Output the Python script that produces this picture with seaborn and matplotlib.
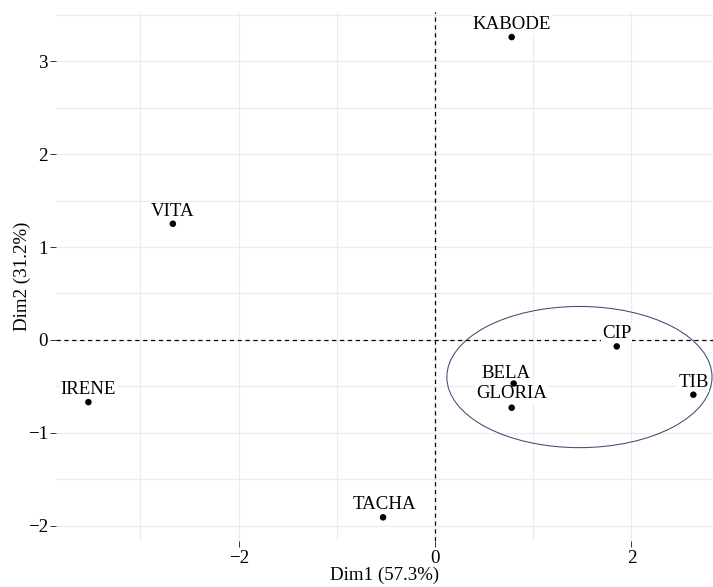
import matplotlib
matplotlib.use("Agg")
import matplotlib.pyplot as plt
from matplotlib.patches import Ellipse
import seaborn as sns
import pandas as pd

# Individuals on the first two principal dimensions
names = ["KABODE", "VITA", "IRENE", "TACHA", "CIP", "BELA", "GLORIA", "TIB"]
dim1 = [0.78, -2.67, -3.53, -0.53, 1.85, 0.80, 0.78, 2.63]
dim2 = [3.26, 1.25, -0.67, -1.91, -0.07, -0.47, -0.73, -0.59]

# Group ellipse (centre, semi-axes) around the right-hand cluster
ell_center = (1.47, -0.40)
ell_semi = (1.35, 0.76)

x_title = "Dim1 (57.3%)"
y_title = "Dim2 (31.2%)"
x_ticks = [-2, 0, 2]
y_ticks = [-2, -1, 0, 1, 2, 3]

df = pd.DataFrame({"name": names, "Dim1": dim1, "Dim2": dim2})

sns.set_theme(style="white")
plt.rcParams["font.family"] = ["Liberation Serif", "DejaVu Serif"]

FS = 13.6

fig = plt.figure(figsize=(7.13, 5.87), dpi=100)
ax = fig.add_axes([56 / 713, 1 - 541 / 587, 1 - 56 / 713, (541 - 12) / 587])

grid_col = "#EBEBEB"
for gx in [-3, -2, -1, 0, 1, 2]:
    ax.axvline(gx, color=grid_col, lw=0.8, zorder=0)
for gy in [-2, -1.5, -1, -0.5, 0, 0.5, 1, 1.5, 2, 2.5, 3, 3.5]:
    ax.axhline(gy, color=grid_col, lw=0.8, zorder=0)

ax.add_patch(Ellipse(ell_center, 2 * ell_semi[0], 2 * ell_semi[1],
                     fill=False, edgecolor="#3A4E6E", lw=0.75, zorder=2))

dash = (0, (3.4, 2.9))
ax.axhline(0, color="black", lw=0.9, ls=dash, zorder=3)
ax.axvline(0, color="black", lw=0.9, ls=dash, zorder=3)

sns.scatterplot(data=df, x="Dim1", y="Dim2", ax=ax, color="black",
                s=22, edgecolor="none", zorder=5, legend=False)

# small repel-style nudges (pixels) for crowded labels
nudge = {"BELA": (-8, 6), "GLORIA": (0, 10), "TACHA": (1, 8)}
for n, xv, yv in zip(names, dim1, dim2):
    dx, dy = nudge.get(n, (0, 8))
    ax.annotate(n, (xv, yv), xytext=(dx * 0.72, dy * 0.72),
                textcoords="offset points", ha="center", va="baseline",
                fontsize=FS, color="black", zorder=4,
                bbox=dict(boxstyle="square,pad=0.05", fc="white", ec="none"))

ax.set_xlim(-3.86, 2.83)
ax.set_ylim(-2.165, 3.53)
ax.set_xticks(x_ticks)
ax.set_yticks(y_ticks)
ax.set_xticklabels([f"{t:g}".replace("-", "\u2212") for t in x_ticks])
ax.set_yticklabels([f"{t:g}".replace("-", "\u2212") for t in y_ticks])
ax.tick_params(axis="both", bottom=True, left=True, length=4.2, width=0.7,
               color="#333333", labelsize=FS, labelcolor="black", pad=1.5,
               direction="out")
ax.tick_params(axis="x", pad=2)
for sp in ax.spines.values():
    sp.set_visible(False)
ax.set_xlabel(x_title, fontsize=FS, color="black", labelpad=0)
ax.set_ylabel(y_title, fontsize=FS, color="black", labelpad=-2.5)
ax.set_facecolor("white")

fig.savefig("out.png", dpi=100)
